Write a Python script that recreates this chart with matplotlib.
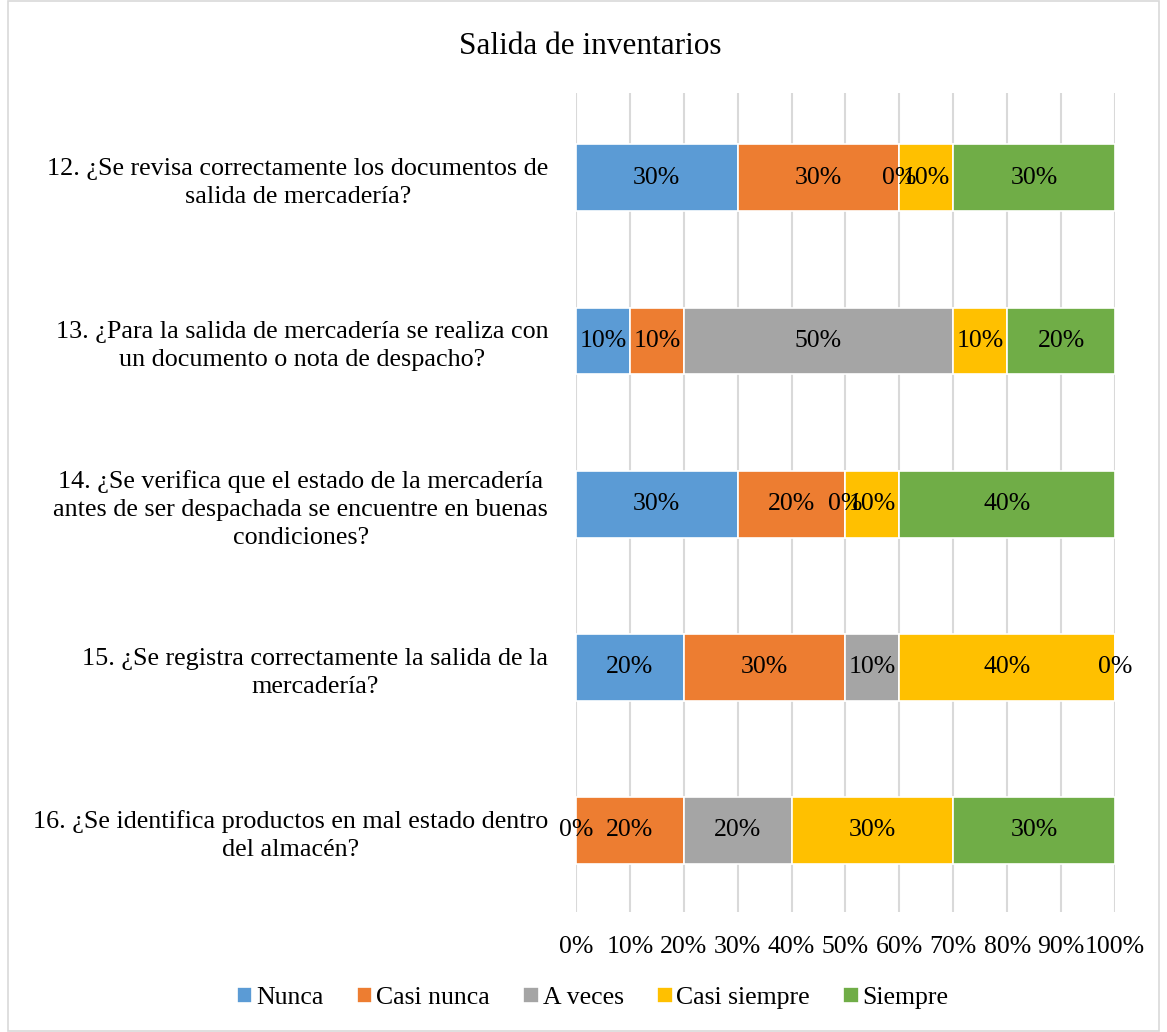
import numpy as np
import matplotlib.pyplot as plt
from matplotlib.patches import Rectangle

plt.rcParams['font.family'] = ['Liberation Serif', 'DejaVu Serif']

preguntas = [
    "12. ¿Se revisa correctamente los documentos de\nsalida de mercadería?",
    "13. ¿Para la salida de mercadería se realiza con\nun documento o nota de despacho?",
    "14. ¿Se verifica que el estado de la mercadería\nantes de ser despachada se encuentre en buenas\ncondiciones?",
    "15. ¿Se registra correctamente la salida de la\nmercadería?",
    "16. ¿Se identifica productos en mal estado dentro\ndel almacén?",
]
series = ["Nunca", "Casi nunca", "A veces", "Casi siempre", "Siempre"]
nunca = [30, 10, 30, 20, 0]
casi_nunca = [30, 10, 20, 30, 20]
a_veces = [0, 50, 0, 10, 20]
casi_siempre = [10, 10, 10, 40, 30]
siempre = [30, 20, 40, 0, 30]
colores = ["#5b9bd5", "#ed7d31", "#a5a5a5", "#ffc000", "#70ad47"]

valores = np.array([nunca, casi_nunca, a_veces, casi_siempre, siempre]) / 100.0

fig = plt.figure(figsize=(11.67, 10.32), dpi=100)
ax = fig.add_axes([0.4936, 0.1163, 0.4618, 0.7936])

y = np.arange(len(preguntas))
left = np.zeros(len(preguntas))
for i, nombre in enumerate(series):
    ax.barh(y, valores[i], left=left, height=0.41, color=colores[i],
            edgecolor="white", linewidth=1.2, label=nombre, zorder=3)
    # etiquetas de datos (los 0% se solapan como en el original)
    for j in range(len(preguntas)):
        ax.text(left[j] + valores[i][j] / 2, y[j], f"{int(round(valores[i][j]*100))}%",
                ha="center", va="center", fontsize=18.5, color="black", zorder=4)
    left += valores[i]

ax.set_ylim(len(preguntas) - 0.5, -0.52)
ax.set_xlim(0, 1)
ax.set_xticks(np.arange(0, 1.01, 0.1))
ax.set_xticklabels([f"{k}%" for k in range(0, 101, 10)], fontsize=18.5)
ax.set_yticks(y)
ax.set_yticklabels(preguntas, fontsize=18.8)
plt.setp(ax.get_yticklabels(), multialignment="center", linespacing=1.35)
ax.tick_params(axis="x", length=0, pad=17)
ax.tick_params(axis="y", length=0, pad=20)
ax.grid(axis="x", color="#d9d9d9", linewidth=1.5, zorder=0)
for s in ax.spines.values():
    s.set_visible(False)

fig.text(0.506, 0.955, "Salida de inventarios", ha="center", va="center", fontsize=22.5)

fig.legend(loc="center", bbox_to_anchor=(0.508, 0.033), ncol=5, frameon=False,
           fontsize=18.5, handlelength=0.6, handleheight=0.6, handletextpad=0.15,
           columnspacing=1.3)

fig.patches.append(Rectangle((0.007, 0.001), 0.986, 0.998, transform=fig.transFigure,
                             fill=False, edgecolor="#d9d9d9", linewidth=1.2))

fig.savefig("out.png", dpi=100)
